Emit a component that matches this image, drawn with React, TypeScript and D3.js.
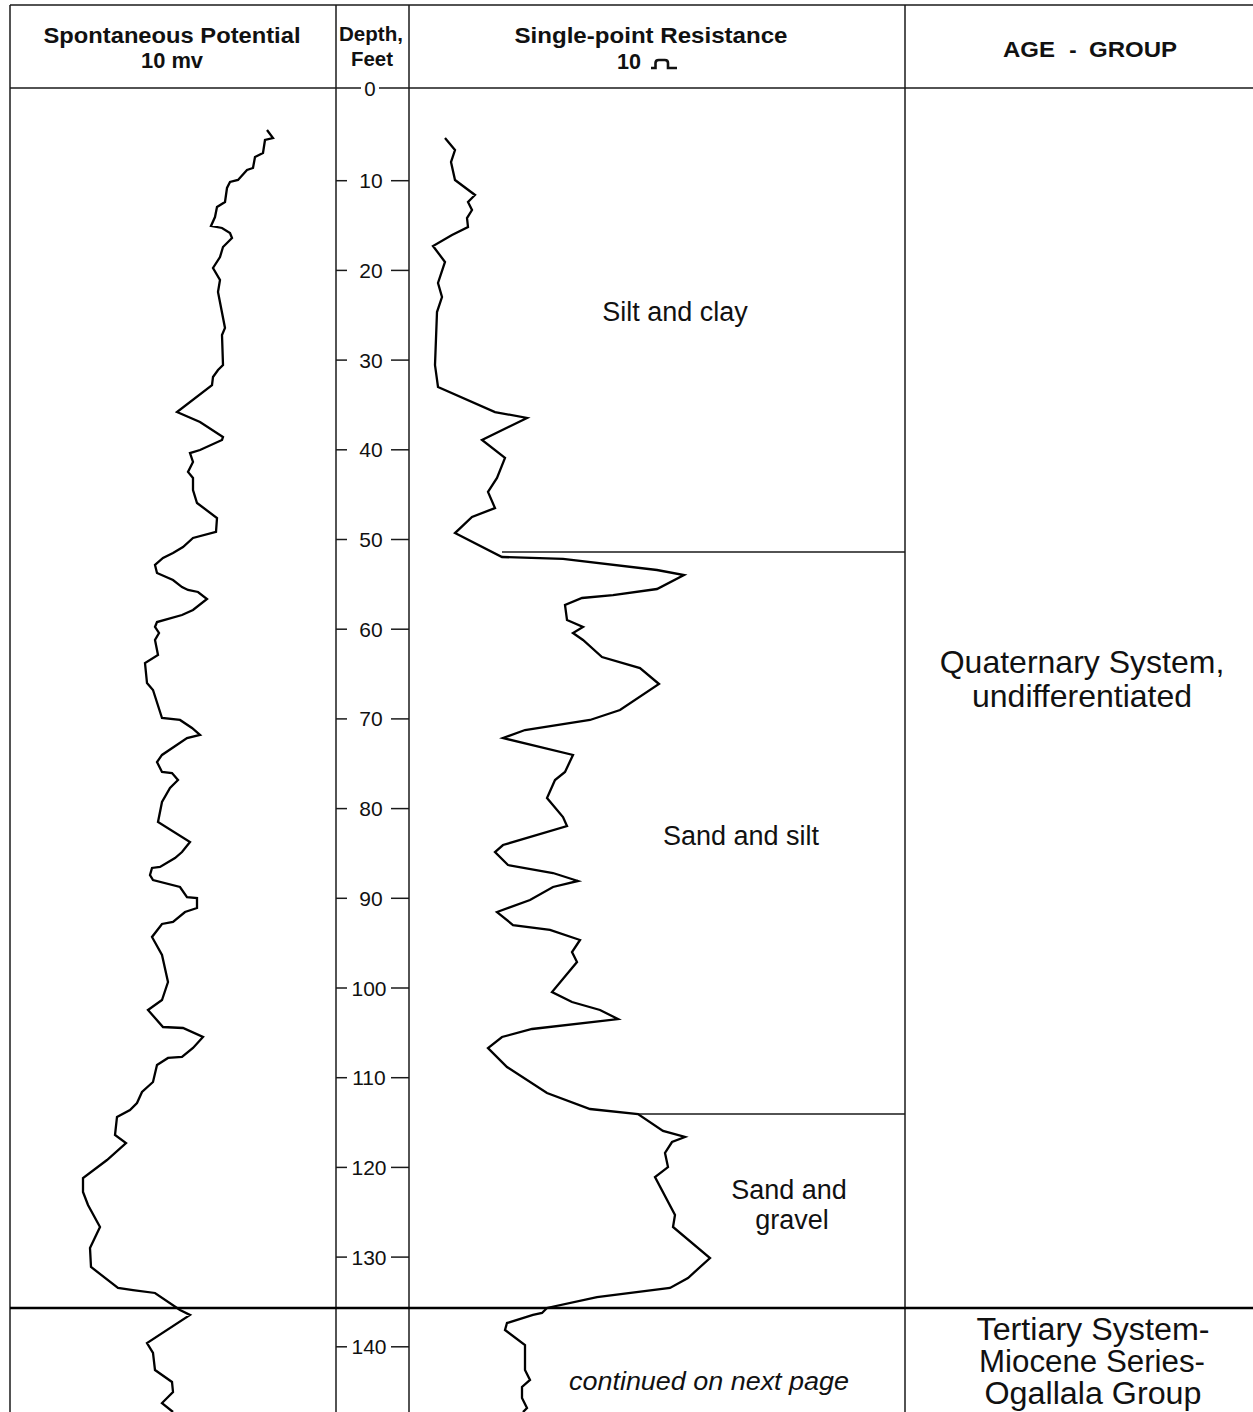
import React from "react";
import * as d3 from "d3";

// ---- data ----
const depthTicks = [10, 20, 30, 40, 50, 60, 70, 80, 90, 100, 110, 120, 130, 140];

// Spontaneous potential (relative mV) by depth (ft)
const spDepth = [4.35, 5.24, 5.46, 6.91, 7.36, 8.58, 8.81, 9.92, 10.14, 10.81, 12.37, 12.93, 14.05, 15.05, 15.27, 15.83, 16.39, 17.39, 18.51, 19.73, 21.07, 22.41, 26.42, 27.2, 30.55, 31.1, 31.88, 32.78, 35.79, 36.9, 38.57, 38.91, 40.02, 40.36, 41.36, 42.47, 43.14, 44.48, 45.93, 47.6, 49.16, 49.83, 50.84, 51.51, 52.06, 52.84, 53.73, 54.52, 55.3, 55.63, 55.85, 56.63, 57.86, 58.42, 59.2, 59.75, 60.42, 61.2, 62.88, 63.77, 66.0, 66.78, 69.9, 70.12, 71.01, 71.79, 72.13, 74.02, 74.81, 75.92, 76.03, 76.81, 77.7, 79.26, 81.49, 83.72, 84.84, 85.51, 86.51, 86.62, 87.4, 87.96, 88.74, 89.86, 89.97, 91.08, 91.53, 92.64, 92.86, 94.31, 96.32, 99.33, 101.34, 102.45, 104.35, 104.46, 105.46, 106.69, 107.69, 107.8, 108.58, 110.48, 111.59, 112.82, 113.6, 114.38, 116.39, 117.28, 119.18, 121.18, 122.74, 124.19, 126.64, 128.99, 131.1, 133.44, 133.67, 134.0, 135.9, 136.45, 139.58, 140.69, 142.59, 143.92, 145.04, 146.27, 147.27];
const spValue = [51.4, 52.6, 51.0, 50.6, 49.0, 48.6, 47.4, 45.6, 44.0, 43.4, 43.0, 41.4, 41.0, 40.2, 42.4, 44.0, 44.4, 42.6, 42.0, 40.6, 42.0, 41.6, 43.0, 42.4, 42.6, 41.6, 40.6, 40.4, 33.4, 38.0, 42.6, 42.4, 38.0, 36.0, 36.6, 35.6, 36.6, 36.6, 37.4, 41.4, 41.2, 36.6, 34.6, 32.6, 30.6, 29.0, 29.4, 32.6, 34.4, 35.6, 37.6, 39.4, 36.6, 34.4, 29.4, 29.0, 29.8, 29.0, 29.6, 27.0, 27.4, 28.6, 30.4, 34.0, 36.4, 38.0, 35.4, 30.4, 29.4, 30.4, 32.4, 33.6, 32.0, 30.4, 29.6, 36.0, 34.4, 33.0, 30.0, 28.4, 28.0, 28.6, 34.0, 35.4, 37.4, 37.4, 35.0, 32.6, 30.4, 28.4, 30.4, 31.6, 30.4, 27.6, 30.6, 34.6, 38.6, 36.6, 34.4, 31.6, 29.4, 28.6, 26.4, 25.4, 24.0, 21.4, 21.0, 23.2, 19.4, 14.6, 14.6, 15.6, 18.0, 16.0, 16.2, 21.6, 24.6, 29.0, 34.0, 36.0, 27.4, 28.6, 29.0, 32.4, 32.6, 30.4, 32.6];

// Single-point resistance (relative ohms) by depth (ft)
const resDepth = [5.24, 6.58, 7.92, 9.92, 11.59, 12.37, 13.27, 14.16, 15.16, 16.05, 17.28, 19.06, 21.4, 22.97, 24.64, 30.55, 33.0, 35.79, 36.45, 38.91, 40.91, 43.14, 44.7, 46.49, 47.49, 49.28, 51.95, 52.17, 53.4, 53.96, 55.52, 56.19, 56.52, 57.3, 58.97, 59.75, 60.42, 61.2, 63.1, 64.33, 66.11, 69.01, 70.12, 71.24, 72.13, 74.02, 75.92, 76.81, 78.82, 80.94, 81.94, 84.06, 84.84, 86.29, 87.18, 88.07, 88.74, 90.19, 91.53, 92.98, 93.53, 94.65, 95.99, 97.1, 100.45, 101.56, 102.45, 103.46, 104.57, 105.46, 106.69, 108.81, 111.71, 113.49, 114.05, 115.94, 116.61, 117.17, 118.39, 119.96, 121.07, 125.31, 126.64, 130.1, 132.33, 133.44, 134.45, 135.67, 136.23, 136.45, 137.35, 138.13, 139.8, 142.59, 143.7, 144.48, 145.71, 146.82, 147.27];
const resValue = [7.2, 9.2, 8.4, 9.2, 13.2, 11.8, 12.6, 11.6, 11.8, 8.6, 4.8, 7.2, 5.8, 6.6, 5.6, 5.2, 5.8, 17.2, 23.6, 14.6, 19.2, 17.6, 15.8, 17.2, 12.6, 9.2, 18.6, 30.8, 49.6, 55.0, 49.6, 40.8, 34.6, 31.2, 31.6, 34.8, 32.8, 34.8, 38.6, 46.2, 50.0, 42.2, 36.2, 23.2, 18.8, 32.8, 31.2, 29.2, 27.6, 30.8, 31.6, 18.8, 17.2, 19.8, 28.8, 33.8, 28.8, 24.2, 17.6, 20.8, 28.2, 34.2, 32.6, 33.6, 28.6, 32.6, 38.2, 41.8, 24.6, 18.6, 15.8, 19.6, 27.6, 36.2, 45.8, 50.8, 55.2, 52.6, 51.2, 51.8, 49.2, 53.2, 52.8, 60.2, 55.8, 52.2, 37.6, 27.6, 26.6, 24.8, 19.6, 19.2, 23.2, 23.2, 24.2, 22.6, 22.6, 23.6, 22.8];

// Lithologic contacts (depth, resistance value where the contact line starts)
const contactDepth = [51.4, 114.05];
const contactStartRes = [18.6, 45.8];
const formationContactDepth = 135.67;

const lithologyLabels = ["Silt and clay", "Sand and silt"];
const gravelLabel = ["Sand and", "gravel"];
const quaternaryLabel = ["Quaternary System,", "undifferentiated"];
const tertiaryLabel = ["Tertiary System-", "Miocene Series-", "Ogallala Group"];

// ---- layout ----
const W = 1253;
const H = 1412;
const X_LEFT = 10;
const X_SP_END = 336;
const X_DEPTH_END = 409;
const X_RES_END = 905;
const Y_TOP = 5;
const Y_HEAD = 88;

const y = d3.scaleLinear().domain([0, 140]).range([91, 91 + 8.97 * 140]);
const xSP = d3.scaleLinear().domain([0, 65.2]).range([X_LEFT, X_SP_END]);
const xRes = d3.scaleLinear().domain([0, 99.2]).range([X_DEPTH_END, X_RES_END]);

const spLine = d3
  .line<number>()
  .x((_, i) => xSP(spValue[i]))
  .y((d) => y(d));
const resLine = d3
  .line<number>()
  .x((_, i) => xRes(resValue[i]))
  .y((d) => y(d));

const FONT = "Arial, 'Liberation Sans', Helvetica, sans-serif";
const NARROW = "'Liberation Sans Narrow', 'Arial Narrow', Arial, 'Liberation Sans', sans-serif";
const LINE = "#1a1a1a";

export default function App() {
  const depthMid = 371;
  return (
    <svg
      width={W}
      height={H}
      viewBox={`0 0 ${W} ${H}`}
      style={{ position: "absolute", left: 0, top: 0, background: "#fff" }}
      fontFamily={FONT}
    >
      <rect x={0} y={0} width={W} height={H} fill="#fff" />
      {/* frame */}
      <line x1={X_LEFT} x2={W} y1={Y_TOP} y2={Y_TOP} stroke={LINE} strokeWidth={1.3} />
      <line x1={X_LEFT} x2={X_LEFT} y1={Y_TOP} y2={H} stroke={LINE} strokeWidth={1.5} />
      <line x1={X_SP_END} x2={X_SP_END} y1={Y_TOP} y2={H} stroke={LINE} strokeWidth={1.5} />
      <line x1={X_DEPTH_END} x2={X_DEPTH_END} y1={Y_TOP} y2={H} stroke={LINE} strokeWidth={1.5} />
      <line x1={X_RES_END} x2={X_RES_END} y1={Y_TOP} y2={H} stroke={LINE} strokeWidth={1.5} />
      {/* header bottom line broken by 0 label */}
      <line x1={X_LEFT} x2={depthMid - 10} y1={Y_HEAD} y2={Y_HEAD} stroke={LINE} strokeWidth={1.6} />
      <line x1={depthMid + 8} x2={W} y1={Y_HEAD} y2={Y_HEAD} stroke={LINE} strokeWidth={1.6} />
      <text x={depthMid - 1} y={Y_HEAD + 7.5} fontSize={20.5} textAnchor="middle" fill="#111">0</text>

      {/* header text */}
      <g fontWeight="bold" fill="#111" textAnchor="middle">
        <text x={172} y={43} fontSize={22} textLength={257} lengthAdjust="spacingAndGlyphs">Spontaneous Potential</text>
        <text x={172} y={68} fontSize={22} textLength={62} lengthAdjust="spacingAndGlyphs">10 mv</text>
        <text x={371} y={41} fontSize={19.5} textLength={64} lengthAdjust="spacingAndGlyphs">Depth,</text>
        <text x={372} y={66} fontSize={19.5} textLength={42} lengthAdjust="spacingAndGlyphs">Feet</text>
        <text x={651} y={43} fontSize={22} textLength={273} lengthAdjust="spacingAndGlyphs">Single-point Resistance</text>
        <text x={641} y={69} fontSize={22} textAnchor="end" textLength={24} lengthAdjust="spacingAndGlyphs">10</text>
        <text x={1029} y={57} fontSize={22} textLength={52} lengthAdjust="spacingAndGlyphs">AGE</text>
        <text x={1073} y={57} fontSize={22}>-</text>
        <text x={1133} y={57} fontSize={22} textLength={88} lengthAdjust="spacingAndGlyphs">GROUP</text>
      </g>
      <path
        d="M651,68 H655.5 V63 Q655.5,60 658.8,60 H664.8 Q668,60 668,63 V68 H677"
        fill="none"
        stroke="#111"
        strokeWidth={2.6}
      />

      {/* depth ticks */}
      {depthTicks.map((t) => (
        <g key={t}>
          <line x1={X_SP_END} x2={347} y1={y(t)} y2={y(t)} stroke={LINE} strokeWidth={1.5} />
          <line x1={391} x2={X_DEPTH_END} y1={y(t)} y2={y(t)} stroke={LINE} strokeWidth={1.5} />
          <text x={t >= 100 ? 369 : depthMid} y={y(t) + 7.5} fontSize={21} textAnchor="middle" fill="#111">
            {t}
          </text>
        </g>
      ))}

      {/* lithologic contacts */}
      {contactDepth.map((d, i) => (
        <line
          key={d}
          x1={xRes(contactStartRes[i])}
          x2={X_RES_END}
          y1={y(d)}
          y2={y(d)}
          stroke={LINE}
          strokeWidth={1.6}
        />
      ))}
      <line
        x1={X_LEFT}
        x2={W}
        y1={y(formationContactDepth)}
        y2={y(formationContactDepth)}
        stroke="#000"
        strokeWidth={2.6}
      />

      {/* curves */}
      <path d={spLine(spDepth) || ""} fill="none" stroke="#000" strokeWidth={2.3} strokeLinejoin="miter" />
      <path d={resLine(resDepth) || ""} fill="none" stroke="#000" strokeWidth={2.3} strokeLinejoin="miter" />

      {/* lithology labels */}
      <g fontSize={27} fill="#111" textAnchor="middle">
        <text x={675} y={321}>{lithologyLabels[0]}</text>
        <text x={741} y={845}>{lithologyLabels[1]}</text>
        <text x={789} y={1199}>{gravelLabel[0]}</text>
        <text x={792} y={1229}>{gravelLabel[1]}</text>
        <text x={709} y={1390} fontStyle="italic" fontSize={26} textLength={280} lengthAdjust="spacingAndGlyphs">continued on next page</text>
      </g>

      {/* age labels */}
      <g fontSize={32} fill="#111" textAnchor="middle">
        <text x={1082} y={673}>{quaternaryLabel[0]}</text>
        <text x={1082} y={707}>{quaternaryLabel[1]}</text>
      </g>
      <g fontSize={31} fill="#111" textAnchor="middle" fontFamily={NARROW}>
        <text x={1093} y={1340} textLength={233} lengthAdjust="spacingAndGlyphs">{tertiaryLabel[0]}</text>
        <text x={1092} y={1372} textLength={226} lengthAdjust="spacingAndGlyphs">{tertiaryLabel[1]}</text>
        <text x={1093} y={1404} textLength={217} lengthAdjust="spacingAndGlyphs">{tertiaryLabel[2]}</text>
      </g>
    </svg>
  );
}
